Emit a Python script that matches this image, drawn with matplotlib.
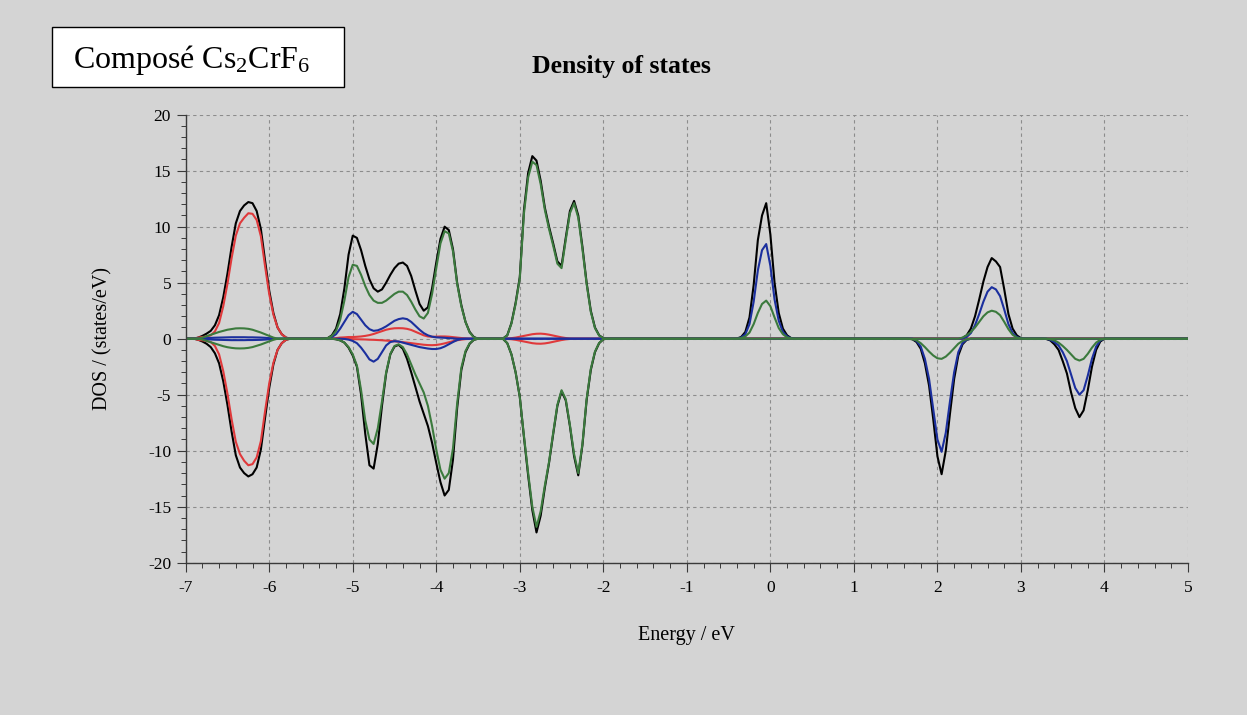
import numpy as np
import matplotlib
matplotlib.use("Agg")
import matplotlib.pyplot as plt
from matplotlib.patches import Rectangle
from matplotlib.ticker import MultipleLocator

plt.rcParams["font.family"] = ["Liberation Serif", "DejaVu Serif"]
plt.rcParams["mathtext.fontset"] = "custom"
plt.rcParams["mathtext.rm"] = "Liberation Serif"
plt.rcParams["mathtext.it"] = "Liberation Serif:italic"
plt.rcParams["axes.unicode_minus"] = False


# Energy sampling (eV): 0.05 eV steps across each band, zero elsewhere
def band(lo, hi):
    return [round(float(v), 2) for v in np.arange(lo, hi + 1e-6, 0.05)]


energy_bands = [band(-6.90, -5.75), band(-5.35, -3.45), band(-3.25, -1.95),
                band(-0.45, 0.30), band(1.65, 3.05), band(3.25, 4.00)]
E_MIN, E_MAX = -7.0, 5.0

# ---- DOS values (states/eV), one list per band ------------------------------
total_up = [
    [0.0, 0.1, 0.25, 0.45, 0.7, 1.2, 2.1, 3.7, 5.8, 8.2, 10.3, 11.4, 11.9, 12.2,
     12.1, 11.4, 9.8, 7.0, 4.3, 2.3, 1.0, 0.4, 0.1, 0.0],
    [0.0, 0.05, 0.3, 0.9, 2.2, 4.5, 7.5, 9.2, 9.0, 7.9, 6.5, 5.3, 4.5, 4.2, 4.4,
     5.0, 5.7, 6.3, 6.7, 6.8, 6.5, 5.6, 4.3, 3.1, 2.5, 2.8, 4.5, 6.8, 8.9, 10.0,
     9.7, 8.0, 5.0, 3.0, 1.5, 0.6, 0.15, 0.0, 0.0],
    [0.0, 0.02, 0.3, 1.4, 3.2, 5.5, 11.5, 14.8, 16.3, 15.9, 14.1, 11.7, 10.0,
     8.5, 6.9, 6.5, 9.0, 11.4, 12.3, 11.0, 8.2, 5.0, 2.5, 1.0, 0.3, 0.05, 0.0],
    [0.0, 0.02, 0.15, 0.6, 1.9, 4.8, 8.8, 11.0, 12.1, 9.3, 5.0, 2.3, 0.9, 0.3,
     0.05, 0.0],
    [0, 0, 0, 0, 0, 0, 0, 0, 0, 0, 0, 0,
     0.0, 0.05, 0.3, 0.9, 2.0, 3.5, 5.1, 6.4, 7.2, 6.9, 6.4, 4.4, 2.2, 0.9, 0.3,
     0.05, 0.0],
    [0, 0, 0, 0, 0, 0, 0, 0, 0, 0, 0, 0, 0, 0, 0, 0],
]
total_dn = [
    [0.0, -0.1, -0.25, -0.45, -0.75, -1.3, -2.2, -3.8, -5.9, -8.3, -10.4, -11.5,
     -12.0, -12.3, -12.1, -11.5, -9.9, -7.1, -4.4, -2.3, -1.0, -0.4, -0.1, 0.0],
    [0.0, 0.0, 0.0, -0.05, -0.15, -0.35, -0.8, -1.5, -2.5, -5.0, -8.5, -11.3,
     -11.6, -9.4, -6.0, -3.1, -1.4, -0.7, -0.55, -0.9, -1.8, -3.0, -4.3, -5.6,
     -6.7, -7.8, -9.3, -11.1, -12.8, -14.0, -13.5, -10.8, -6.2, -2.8, -1.2,
     -0.45, -0.1, 0.0, 0.0],
    [0.0, -0.02, -0.4, -1.4, -3.0, -5.2, -8.8, -12.2, -15.3, -17.3, -15.8,
     -13.3, -11.1, -8.5, -6.0, -4.7, -5.5, -7.8, -10.5, -12.2, -9.5, -5.5, -2.8,
     -1.2, -0.4, -0.05, 0.0],
    [0, 0, 0, 0, 0, 0, 0, 0, 0, 0, 0, 0, 0, 0, 0, 0],
    [0.0, -0.05, -0.3, -0.9, -2.2, -4.2, -7.2, -10.5, -12.1, -10.0, -6.7, -3.6,
     -1.5, -0.5, -0.1, 0.0,
     0, 0, 0, 0, 0, 0, 0, 0, 0, 0, 0, 0, 0],
    [0.0, -0.02, -0.15, -0.5, -1.0, -2.0, -3.1, -4.8, -6.2, -7.0, -6.4, -4.6,
     -2.5, -1.0, -0.25, 0.0],
]

cs_up = [
    [0.0, 0.1, 0.15, 0.2, 0.3, 0.65, 1.4, 2.9, 4.9, 7.2, 9.2, 10.3, 10.8, 11.2,
     11.15, 10.6, 9.15, 6.5, 4.0, 2.15, 1.0, 0.4, 0.1, 0.0],
    [0.0, 0.0, 0.02, 0.05, 0.1, 0.12, 0.15, 0.15, 0.17, 0.2, 0.25, 0.32, 0.42,
     0.55, 0.68, 0.8, 0.88, 0.93, 0.94, 0.93, 0.88, 0.78, 0.62, 0.45, 0.3, 0.2,
     0.17, 0.18, 0.2, 0.2, 0.18, 0.14, 0.1, 0.06, 0.03, 0.0, 0.0, 0.0, 0.0],
    [0, 0, 0.02, 0.05, 0.1, 0.17, 0.25, 0.33, 0.4, 0.44, 0.45, 0.42, 0.36, 0.28,
     0.2, 0.12, 0.06, 0.02, 0, 0, 0, 0, 0, 0, 0, 0, 0],
    [0, 0, 0, 0, 0, 0, 0, 0, 0, 0, 0, 0, 0, 0, 0, 0],
    [0, 0, 0, 0, 0, 0, 0, 0, 0, 0, 0, 0, 0, 0, 0, 0, 0, 0, 0, 0, 0, 0, 0, 0, 0,
     0, 0, 0, 0],
    [0, 0, 0, 0, 0, 0, 0, 0, 0, 0, 0, 0, 0, 0, 0, 0],
]
cs_dn = [
    [0.0, -0.1, -0.15, -0.2, -0.3, -0.65, -1.4, -2.9, -4.9, -7.2, -9.2, -10.3,
     -10.9, -11.3, -11.2, -10.6, -9.15, -6.5, -4.0, -2.15, -1.0, -0.4, -0.1, 0.0],
    [0, 0, 0, 0, -0.01, -0.02, -0.03, -0.04, -0.05, -0.06, -0.07, -0.09, -0.1,
     -0.12, -0.14, -0.17, -0.2, -0.23, -0.27, -0.31, -0.35, -0.4, -0.45, -0.5,
     -0.54, -0.57, -0.58, -0.56, -0.5, -0.42, -0.32, -0.22, -0.14, -0.08, -0.04,
     -0.01, 0, 0, 0],
    [0, 0, -0.02, -0.05, -0.1, -0.17, -0.25, -0.33, -0.4, -0.44, -0.45, -0.42,
     -0.36, -0.28, -0.2, -0.12, -0.06, -0.02, 0, 0, 0, 0, 0, 0, 0, 0, 0],
    [0, 0, 0, 0, 0, 0, 0, 0, 0, 0, 0, 0, 0, 0, 0, 0],
    [0, 0, 0, 0, 0, 0, 0, 0, 0, 0, 0, 0, 0, 0, 0, 0, 0, 0, 0, 0, 0, 0, 0, 0, 0,
     0, 0, 0, 0],
    [0, 0, 0, 0, 0, 0, 0, 0, 0, 0, 0, 0, 0, 0, 0, 0],
]

cr_up = [
    [0, 0, 0.02, 0.05, 0.07, 0.09, 0.1, 0.11, 0.12, 0.13, 0.13, 0.13, 0.13, 0.12,
     0.12, 0.11, 0.1, 0.08, 0.05, 0.03, 0, 0, 0, 0],
    [0.0, 0.02, 0.15, 0.4, 0.9, 1.5, 2.1, 2.4, 2.2, 1.7, 1.2, 0.85, 0.7, 0.75,
     0.9, 1.1, 1.35, 1.6, 1.75, 1.82, 1.75, 1.5, 1.15, 0.8, 0.5, 0.3, 0.18, 0.12,
     0.1, 0.08, 0.05, 0.03, 0, 0, 0, 0, 0, 0, 0],
    [0, 0, 0, 0, 0, 0, 0, 0, 0, 0, 0, 0, 0, 0, 0, 0, 0, 0, 0, 0, 0, 0, 0, 0, 0,
     0, 0],
    [0.0, 0.0, 0.1, 0.4, 1.3, 3.3, 6.1, 7.9, 8.45, 6.5, 3.5, 1.6, 0.6, 0.2, 0.03,
     0.0],
    [0, 0, 0, 0, 0, 0, 0, 0, 0, 0, 0, 0,
     0.0, 0.0, 0.15, 0.5, 1.2, 2.2, 3.3, 4.2, 4.6, 4.4, 3.8, 2.6, 1.3, 0.5, 0.15,
     0.03, 0.0],
    [0, 0, 0, 0, 0, 0, 0, 0, 0, 0, 0, 0, 0, 0, 0, 0],
]
cr_dn = [
    [0, 0, -0.02, -0.05, -0.07, -0.09, -0.1, -0.11, -0.12, -0.13, -0.13, -0.13,
     -0.13, -0.12, -0.12, -0.11, -0.1, -0.08, -0.05, -0.03, 0, 0, 0, 0],
    [0, 0, 0, 0, 0, -0.02, -0.08, -0.2, -0.4, -0.8, -1.3, -1.85, -2.05, -1.8,
     -1.2, -0.6, -0.3, -0.22, -0.25, -0.35, -0.45, -0.55, -0.65, -0.75, -0.82,
     -0.88, -0.92, -0.92, -0.85, -0.7, -0.5, -0.3, -0.12, -0.03, 0, 0, 0, 0, 0],
    [0, 0, 0, 0, 0, 0, 0, 0, 0, 0, 0, 0, 0, 0, 0, 0, 0, 0, 0, 0, 0, 0, 0, 0, 0,
     0, 0],
    [0, 0, 0, 0, 0, 0, 0, 0, 0, 0, 0, 0, 0, 0, 0, 0],
    [0.0, 0.0, -0.2, -0.7, -1.8, -3.6, -6.3, -9.0, -10.1, -8.4, -5.6, -3.0, -1.2,
     -0.4, -0.08, 0.0,
     0, 0, 0, 0, 0, 0, 0, 0, 0, 0, 0, 0, 0],
    [0.0, 0.0, -0.1, -0.3, -0.6, -1.2, -2.0, -3.2, -4.4, -5.0, -4.6, -3.3, -1.8,
     -0.7, -0.15, 0.0],
]

f_up = [
    [0, 0, 0.1, 0.22, 0.35, 0.48, 0.6, 0.7, 0.8, 0.86, 0.92, 0.93, 0.92, 0.88,
     0.8, 0.68, 0.55, 0.4, 0.25, 0.1, 0, 0, 0, 0],
    [0.0, 0.05, 0.25, 0.7, 1.7, 3.4, 5.5, 6.6, 6.5, 5.7, 4.7, 3.9, 3.4, 3.2, 3.2,
     3.4, 3.7, 4.0, 4.2, 4.2, 3.9, 3.3, 2.6, 2.0, 1.8, 2.3, 4.0, 6.3, 8.5, 9.6,
     9.4, 7.8, 4.9, 2.9, 1.5, 0.55, 0.12, 0.0, 0.0],
    [0.0, 0.02, 0.3, 1.35, 3.1, 5.4, 11.2, 14.4, 15.8, 15.5, 13.8, 11.5, 9.8, 8.3,
     6.7, 6.3, 8.8, 11.2, 12.1, 10.8, 8.0, 4.9, 2.4, 0.95, 0.28, 0.04, 0.0],
    [0.0, 0.0, 0.05, 0.2, 0.55, 1.3, 2.3, 3.1, 3.4, 2.9, 1.9, 0.95, 0.4, 0.12,
     0.02, 0.0],
    [0, 0, 0, 0, 0, 0, 0, 0, 0, 0, 0, 0,
     0.0, 0.1, 0.3, 0.6, 1.0, 1.5, 2.0, 2.35, 2.5, 2.4, 2.1, 1.5, 0.85, 0.35, 0.1,
     0.02, 0.0],
    [0, 0, 0, 0, 0, 0, 0, 0, 0, 0, 0, 0, 0, 0, 0, 0],
]
f_dn = [
    [0, 0, -0.08, -0.2, -0.32, -0.45, -0.57, -0.67, -0.76, -0.82, -0.86, -0.87,
     -0.86, -0.82, -0.75, -0.64, -0.52, -0.38, -0.24, -0.1, 0, 0, 0, 0],
    [0.0, 0.0, 0.0, -0.05, -0.15, -0.35, -0.75, -1.4, -2.4, -4.6, -7.3, -9.0,
     -9.4, -8.0, -5.6, -3.0, -1.35, -0.65, -0.5, -0.75, -1.4, -2.3, -3.2, -4.0,
     -4.8, -6.0, -7.8, -9.9, -11.7, -12.5, -12.0, -9.8, -5.8, -2.6, -1.1, -0.4,
     -0.1, 0.0, 0.0],
    [0.0, -0.02, -0.4, -1.4, -3.0, -5.2, -8.7, -12.0, -15.0, -16.8, -15.4, -13.1,
     -11.0, -8.4, -5.9, -4.6, -5.4, -7.7, -10.3, -12.0, -9.4, -5.4, -2.7, -1.15,
     -0.38, -0.05, 0.0],
    [0, 0, 0, 0, 0, 0, 0, 0, 0, 0, 0, 0, 0, 0, 0, 0],
    [0.0, -0.05, -0.15, -0.4, -0.75, -1.15, -1.5, -1.75, -1.8, -1.6, -1.25,
     -0.85, -0.45, -0.2, -0.05, 0.0,
     0, 0, 0, 0, 0, 0, 0, 0, 0, 0, 0, 0, 0],
    [0.0, 0.0, -0.05, -0.15, -0.35, -0.65, -1.0, -1.4, -1.8, -1.95, -1.8, -1.35,
     -0.8, -0.35, -0.1, 0.0],
]


def assemble(parts):
    vals = [0.0]
    for grid, seg in zip(energy_bands, parts):
        assert len(grid) == len(seg), (len(grid), len(seg))
        vals.extend(seg)
    vals.append(0.0)
    return np.array(vals, dtype=float)


energy = np.array([E_MIN] + [e for g in energy_bands for e in g] + [E_MAX])

BG = "#d4d4d4"
series = [
    (total_up, total_dn, "#000000"),
    (cs_up, cs_dn, "#e0393b"),
    (cr_up, cr_dn, "#1b2f9e"),
    (f_up, f_dn, "#3b7a3d"),
]

fig = plt.figure(figsize=(12.47, 7.15), dpi=100, facecolor=BG)
ax = fig.add_axes([0.1489, 0.2130, 0.8038, 0.6266], facecolor=BG)

for up, dn, col in series:
    ax.plot(energy, assemble(up), color=col, lw=1.5, solid_joinstyle="round")
    ax.plot(energy, assemble(dn), color=col, lw=1.5, solid_joinstyle="round")

ax.set_xlim(E_MIN, E_MAX)
ax.set_ylim(-20, 20)
ax.xaxis.set_major_locator(MultipleLocator(1))
ax.xaxis.set_minor_locator(MultipleLocator(0.2))
ax.yaxis.set_major_locator(MultipleLocator(5))
ax.yaxis.set_minor_locator(MultipleLocator(1))
ax.grid(which="major", color="#8c8c8c", linestyle=(0, (3, 3)), linewidth=0.8)
ax.set_axisbelow(True)

for side in ("top", "right"):
    ax.spines[side].set_visible(False)
for side in ("left", "bottom"):
    ax.spines[side].set_color("#3a3a3a")
    ax.spines[side].set_linewidth(1.0)

ax.tick_params(which="major", direction="out", length=6.5, width=0.8,
               color="#3a3a3a", labelsize=12.5, pad=4)
ax.tick_params(which="minor", direction="out", length=3.5, width=0.7,
               color="#3a3a3a")
ax.tick_params(axis="x", which="major", pad=6)

fig.text(0.0825, 0.2130 + 0.6266 / 2, "DOS / (states/eV)", rotation=90,
         ha="center", va="center", fontsize=14.5)
fig.text(0.1489 + 0.8038 / 2, 0.105, "Energy / eV", ha="center",
         va="baseline", fontsize=14.5)
fig.text(0.4983, 0.8975, "Density of states", ha="center", va="baseline",
         fontsize=18.5, fontweight="bold")

fig.patches.append(Rectangle((0.0415, 0.8787), 0.2344, 0.0831,
                             transform=fig.transFigure, facecolor="white",
                             edgecolor="black", linewidth=1.0))
fig.text(0.0587, 0.9045, "Composé Cs$_2$CrF$_6$", ha="left", va="baseline",
         fontsize=23)

fig.savefig("out.png", dpi=100, facecolor=BG)
